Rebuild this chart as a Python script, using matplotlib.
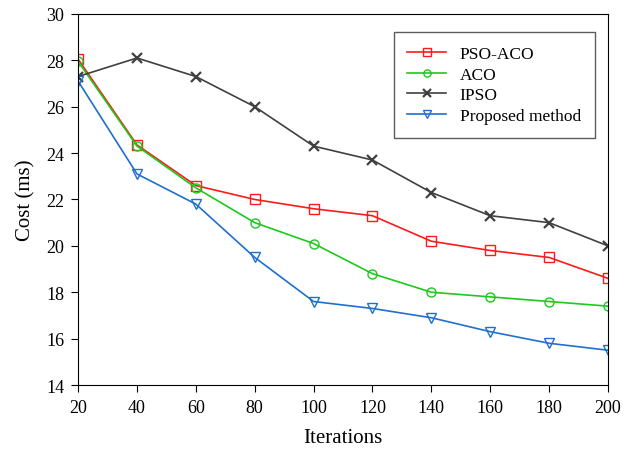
import numpy as np
import matplotlib.pyplot as plt

plt.rcParams['font.family'] = ['Liberation Serif', 'DejaVu Serif']

iterations = [20, 40, 60, 80, 100, 120, 140, 160, 180, 200]
pso_aco = [28.05, 24.35, 22.6, 22.0, 21.6, 21.3, 20.2, 19.8, 19.5, 18.6]
aco = [27.95, 24.3, 22.5, 21.0, 20.1, 18.8, 18.0, 17.8, 17.6, 17.4]
ipso = [27.3, 28.1, 27.3, 26.0, 24.3, 23.7, 22.3, 21.3, 21.0, 20.0]
proposed = [27.1, 23.1, 21.8, 19.5, 17.6, 17.3, 16.9, 16.3, 15.8, 15.5]

fig = plt.figure(figsize=(6.3, 4.52), dpi=100)
ax = fig.add_axes([0.124, 0.146, 0.841, 0.821])

ax.plot(iterations, pso_aco, color='#ff1a1a', marker='s', mfc='none', ms=6.5, lw=1.2, label='PSO-ACO')
ax.plot(iterations, aco, color='#1ec81e', marker='o', mfc='none', ms=6.5, lw=1.2, label='ACO')
ax.plot(iterations, ipso, color='#404040', marker='x', ms=6.5, mew=1.6, lw=1.2, label='IPSO')
ax.plot(iterations, proposed, color='#1f6fd0', marker='v', mfc='none', ms=7.5, lw=1.2, label='Proposed method')

ax.set_xlim(20, 200)
ax.set_ylim(14, 30)
ax.set_xticks(iterations)
ax.set_yticks(np.arange(14, 31, 2))
ax.tick_params(direction='out', length=5, labelsize=13, pad=5)
ax.set_xlabel('Iterations', fontsize=15, labelpad=9)
ax.set_ylabel('Cost (ms)', fontsize=15, labelpad=8)

leg = ax.legend(loc='upper right', bbox_to_anchor=(0.975, 0.951), borderaxespad=0,
                fontsize=12.5, frameon=True, fancybox=False, edgecolor='#333333',
                handlelength=2.2, borderpad=0.8, labelspacing=0.25, markerscale=0.8)
leg.get_frame().set_linewidth(1.0)

fig.savefig('out.png', dpi=100)
